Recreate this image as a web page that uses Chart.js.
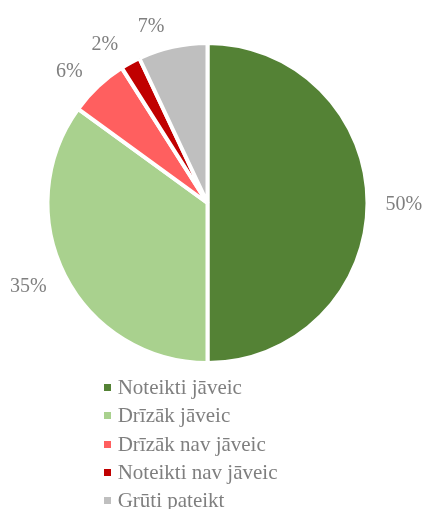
<!DOCTYPE html>
<html>
<head>
<meta charset="utf-8">
<script src="https://cdn.jsdelivr.net/npm/chart.js@4.4.1/dist/chart.umd.min.js"></script>
<style>
  body { margin: 0; background: #fff; }
  #wrap { position: relative; width: 423px; height: 509px; overflow: hidden; }
  #wrap canvas { position: absolute; left: 0; top: 0; }
  #legend {
    position: absolute; left: 104px; top: 373.2px; margin: 0; padding: 0; list-style: none;
    font-family: "Liberation Serif", "Times New Roman", serif; font-size: 21px; color: #7f7f7f;
  }
  #legend li { display: flex; align-items: center; height: 28.4px; white-space: nowrap; }
  #legend span { display: inline-block; width: 7px; height: 7px; margin-right: 6.7px; }
</style>
</head>
<body>
<div id="wrap">
  <canvas id="pie" width="423" height="509"></canvas>
  <ul id="legend"></ul>
</div>
<script>
const categories = ['Noteikti jāveic', 'Drīzāk jāveic', 'Drīzāk nav jāveic', 'Noteikti nav jāveic', 'Grūti pateikt'];
const shares = [50, 35, 6, 2, 7];
const sliceColors = ['#548235', '#A9D18E', '#FF5F5F', '#C00000', '#BFBFBF'];

// percentage labels just outside each slice
const outsideLabels = {
  id: 'outsideLabels',
  afterDatasetsDraw(chart) {
    const ctx = chart.ctx;
    const meta = chart.getDatasetMeta(0);
    const total = shares.reduce((a, b) => a + b, 0);
    ctx.save();
    ctx.font = '20px "Liberation Serif", "Times New Roman", serif';
    ctx.fillStyle = '#7f7f7f';
    ctx.textBaseline = 'alphabetic';
    meta.data.forEach((arc, i) => {
      const p = arc.getProps(['x', 'y', 'startAngle', 'endAngle', 'outerRadius'], true);
      const mid = (p.startAngle + p.endAngle) / 2;
      const dx = Math.cos(mid), dy = Math.sin(mid);
      const r = p.outerRadius + 15;
      let px = p.x + dx * r;
      const py = p.y + dy * r + dy * 7;
      if (dx < -0.1) { ctx.textAlign = 'right'; px -= 5; }
      else if (dx > 0.1) { ctx.textAlign = 'left'; px += 3; }
      else ctx.textAlign = 'center';
      ctx.fillText(Math.round(shares[i] / total * 100) + '%', px, py + 6.8);
    });
    ctx.restore();
  }
};

const chart = new Chart(document.getElementById('pie'), {
  type: 'pie',
  data: {
    labels: categories,
    datasets: [{
      data: shares,
      backgroundColor: sliceColors,
      borderColor: '#ffffff',
      borderWidth: 4
    }]
  },
  options: {
    responsive: false,
    animation: false,
    radius: 160,
    layout: { padding: { left: 47.5, right: 55.5, top: 43, bottom: 146 } },
    plugins: {
      legend: { display: false },
      tooltip: { enabled: false }
    }
  },
  plugins: [outsideLabels]
});

// legend list under the pie, built from the chart's own legend items
const legendEl = document.getElementById('legend');
chart.options.plugins.legend.labels.generateLabels(chart).forEach(item => {
  const li = document.createElement('li');
  const box = document.createElement('span');
  box.style.background = item.fillStyle;
  li.appendChild(box);
  li.appendChild(document.createTextNode(item.text));
  legendEl.appendChild(li);
});
</script>
</body>
</html>
